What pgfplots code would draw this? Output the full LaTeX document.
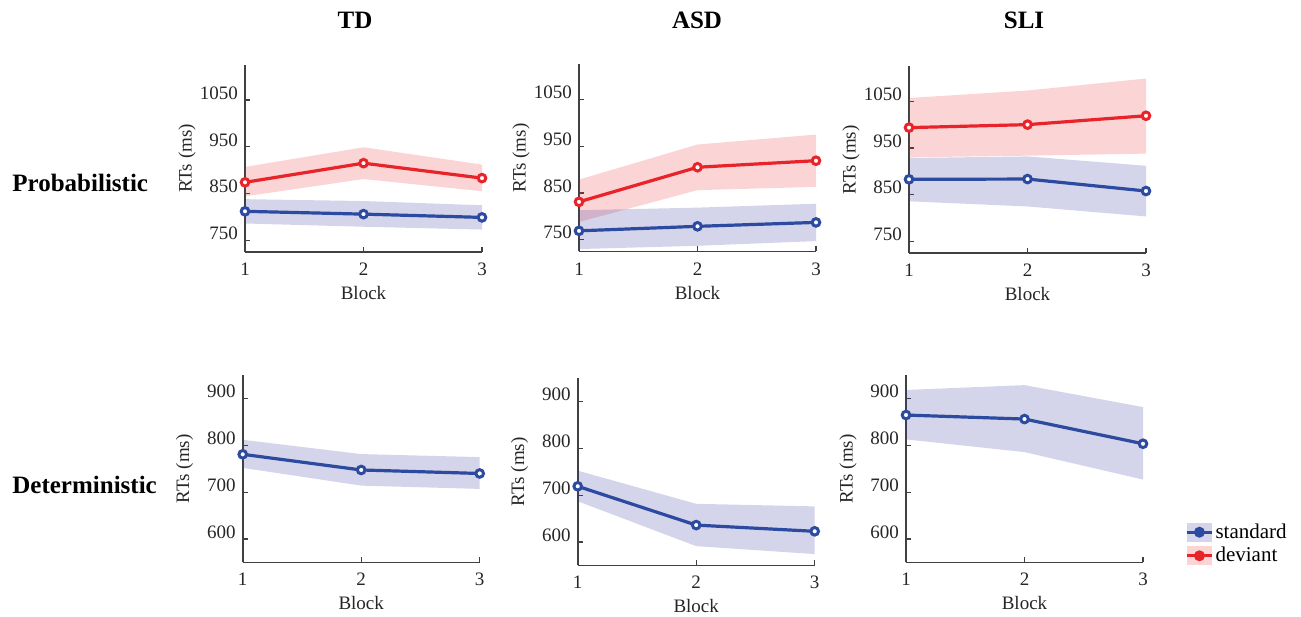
\documentclass[border=0pt]{standalone}
\usepackage{fontspec}
\setmainfont{Liberation Serif}
\usepackage{pgfplots}
\pgfplotsset{compat=1.18}

\definecolor{stdblue}{RGB}{44,74,160}
\definecolor{devred}{RGB}{232,36,42}
\definecolor{bandblue}{RGB}{60,60,160}
\definecolor{bandred}{RGB}{235,40,45}
\definecolor{axgray}{RGB}{64,64,64}

\newcommand{\lblfont}{\fontsize{9.5}{11}\selectfont}

\pgfplotsset{
  panel/.style={
    scale only axis, width=118.5pt, height=93.5pt,
    anchor=south west,
    axis lines=left,
    axis line style={-, draw=axgray, line width=0.8pt},
    xmin=1, xmax=3, xtick={1,2,3},
    tick align=inside, major tick length=2.5pt,
    tick style={draw=axgray, line width=0.6pt},
    tick label style={font=\lblfont, text=black!85},
    label style={font=\lblfont, text=black!85},
    /pgf/number format/assume math mode=true,
    /pgf/number format/1000 sep={},
    yticklabel style={yshift=3.5pt},
    xticklabel style={yshift=-2pt},
    xlabel={Block}, ylabel={RTs (ms)},
    xlabel style={at={(axis description cs:0.5,-0.22)}, anchor=center},
    ylabel style={at={(axis description cs:-0.245,0.5)}, anchor=center},
    clip=false,
  },
  toprow/.style={panel, ymin=725, ymax=1125, ytick={750,850,950,1050}},
  botrow/.style={panel, ymin=550, ymax=950, ytick={600,700,800,900}},
  bandR/.style={draw=none, fill=bandred, fill opacity=0.2, forget plot},
  bandB/.style={draw=none, fill=bandblue, fill opacity=0.22, forget plot},
  lineR/.style={devred, line width=1.6pt, mark=*, mark size=1.9pt, mark options={fill=white, line width=1.5pt}},
  lineB/.style={stdblue, line width=1.6pt, mark=*, mark size=1.9pt, mark options={fill=white, line width=1.5pt}},
  legB/.style={legend image code/.code={
    \path[draw=none, fill=bandblue, fill opacity=0.22] (0pt,-4.75pt) rectangle (12.5pt,4.75pt);
    \draw[mark repeat=2, mark phase=2, ##1, mark options={fill=stdblue}] plot coordinates {(0pt,0pt) (6.25pt,0pt) (12.5pt,0pt)};}},
  legR/.style={legend image code/.code={
    \path[draw=none, fill=bandred, fill opacity=0.2] (0pt,-4.75pt) rectangle (12.5pt,4.75pt);
    \draw[mark repeat=2, mark phase=2, ##1, mark options={fill=devred}] plot coordinates {(0pt,0pt) (6.25pt,0pt) (12.5pt,0pt)};}},
}

\begin{document}
\begin{tikzpicture}
\useasboundingbox (0,0) rectangle (650.5pt,308pt);

\node[anchor=base, font=\fontsize{12.5}{14}\selectfont\bfseries] at (177.5pt,293.8pt) {TD};
\node[anchor=base, font=\fontsize{12.5}{14}\selectfont\bfseries] at (348.5pt,293.8pt) {ASD};
\node[anchor=base, font=\fontsize{12.5}{14}\selectfont\bfseries] at (512pt,293.8pt) {SLI};
\node[anchor=base west, inner sep=0pt, font=\fontsize{12.5}{14}\selectfont\bfseries] at (6pt,212pt) {Probabilistic};
\node[anchor=base west, inner sep=0pt, font=\fontsize{12.5}{14}\selectfont\bfseries] at (6pt,61pt) {Deterministic};

% TD probabilistic
\begin{axis}[toprow, at={(122.5pt,182pt)}]
\addplot[bandR] coordinates {(1,907) (2,949) (3,912) (3,855) (2,881) (1,844)} -- cycle;
\addplot[bandB] coordinates {(1,838) (2,834) (3,825) (3,773) (2,779) (1,786)} -- cycle;
\addplot[lineR] coordinates {(1,874) (2,915) (3,883)};
\addplot[lineB] coordinates {(1,812) (2,806) (3,799)};
\end{axis}

% ASD probabilistic
\begin{axis}[toprow, at={(289.5pt,182.3pt)}]
\addplot[bandR] coordinates {(1,878.6) (2,953.6) (3,975) (3,863) (2,856) (1,788)} -- cycle;
\addplot[bandB] coordinates {(1,813) (2,818.6) (3,827) (3,747) (2,737) (1,730)} -- cycle;
\addplot[lineR] coordinates {(1,831) (2,905) (3,919)};
\addplot[lineB] coordinates {(1,769) (2,778.6) (3,787)};
\end{axis}

% SLI probabilistic
\begin{axis}[toprow, at={(454.5pt,181.4pt)}]
\addplot[bandR] coordinates {(1,1057) (2,1073) (3,1098.6) (3,938) (2,933.6) (1,930)} -- cycle;
\addplot[bandB] coordinates {(1,928.6) (2,932) (3,912) (3,803.6) (2,825) (1,836)} -- cycle;
\addplot[lineR] coordinates {(1,993.6) (2,1000) (3,1019)};
\addplot[lineB] coordinates {(1,883) (2,883.6) (3,858)};
\end{axis}

% TD deterministic
\begin{axis}[botrow, at={(121.35pt,26.85pt)}]
\addplot[bandB] coordinates {(1,812) (2,781.5) (3,775) (3,707) (2,714) (1,752)} -- cycle;
\addplot[lineB] coordinates {(1,781) (2,747.5) (3,740)};
\end{axis}

% ASD deterministic
\begin{axis}[botrow, at={(288.85pt,25.35pt)}]
\addplot[bandB] coordinates {(1,752.5) (2,681.5) (3,676) (3,574) (2,591) (1,687)} -- cycle;
\addplot[lineB] coordinates {(1,719) (2,636) (3,622.7)};
\end{axis}

% SLI deterministic
\begin{axis}[botrow, at={(453pt,26.85pt)},
  legend style={at={(1.177,-0.025)}, anchor=south west, draw=none, fill=none,
    inner sep=0pt, font=\fontsize{10.5}{12}\selectfont, row sep=1pt, nodes={inner sep=1pt}},
  legend cell align=left]
\addplot[bandB] coordinates {(1,918.6) (2,929) (3,882) (3,727) (2,785.7) (1,812.9)} -- cycle;
\addplot[lineB, legB] coordinates {(1,865) (2,856.4) (3,803.6)};
\addlegendentry{standard}
\addlegendimage{lineR, legR}
\addlegendentry{deviant}
\end{axis}
\end{tikzpicture}
\end{document}
